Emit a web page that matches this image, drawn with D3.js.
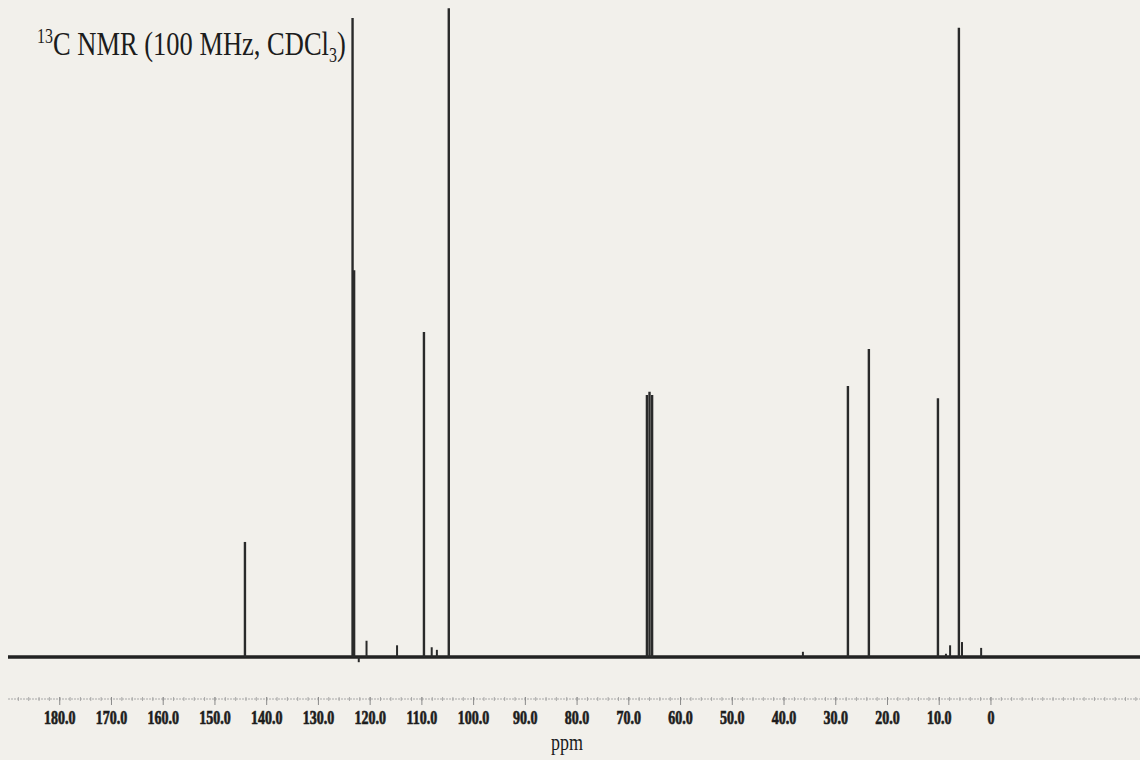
<!DOCTYPE html>
<html>
<head>
  <meta charset="utf-8">
  <title>13C NMR spectrum</title>
  <script src="https://d3js.org/d3.v7.min.js"></script>
  <style>
    html, body { margin: 0; padding: 0; background: #f2f0eb; }
    svg { display: block; }
    text { font-family: "Liberation Serif", "DejaVu Serif", serif; fill: #1c1c1c; }
    .tick-label { font-size: 14px; font-weight: bold; stroke: #1c1c1c; stroke-width: 0.5px; }
  </style>
</head>
<body>
<div id="chart"></div>
<script>
  // Peak positions (ppm, as read against the printed axis) and heights (0-100 scale).
  const peakPpm = [144.2, 123.4, 123.1, 122.2, 120.7, 114.8, 109.6, 108.1, 107.1, 104.8,
                   66.5, 66.0, 65.5, 36.35, 27.65, 23.6, 10.25, 8.7, 7.9, 6.2, 5.6, 1.9];
  const peakHeight = [17.7, 98.3, 59.5, -0.8, 2.5, 1.8, 50.0, 1.5, 1.1, 99.8,
                      40.3, 40.8, 40.3, 0.8, 41.7, 47.4, 39.8, 0.5, 1.8, 96.8, 2.3, 1.4];

  // Axis tick labels.
  const tickValues = [180, 170, 160, 150, 140, 130, 120, 110, 100, 90, 80, 70, 60, 50, 40, 30, 20, 10, 0];
  const tickText = ["180.0", "170.0", "160.0", "150.0", "140.0", "130.0", "120.0", "110.0", "100.0",
                    "90.0", "80.0", "70.0", "60.0", "50.0", "40.0", "30.0", "20.0", "10.0", "0"];
  const ppmDomain = [190, -29];

  const width = 1140, height = 760;

  const svg = d3.select("#chart").append("svg")
    .attr("width", width)
    .attr("height", height);

  svg.append("rect")
    .attr("width", width).attr("height", height)
    .attr("fill", "#f2f0eb");

  const x = d3.scaleLinear().domain(ppmDomain).range([8, 1141]);
  const y = d3.scaleLinear().domain([0, 100]).range([657, 7]);

  // Baseline of the spectrum.
  svg.append("line")
    .attr("x1", x(ppmDomain[0])).attr("x2", x(ppmDomain[1]))
    .attr("y1", y(0)).attr("y2", y(0))
    .attr("stroke", "#222")
    .attr("stroke-width", 3.5);

  // Peaks as sticks.
  const peaks = peakPpm.map((p, i) => ({ppm: p, h: peakHeight[i]}));
  svg.selectAll(".peak")
    .data(peaks)
    .enter().append("line")
    .attr("class", "peak")
    .attr("x1", d => x(d.ppm)).attr("x2", d => x(d.ppm))
    .attr("y1", y(0)).attr("y2", d => y(d.h))
    .attr("stroke", "#2a2a2a")
    .attr("stroke-width", d => Math.abs(d.h) > 5 ? 2.4 : 2);

  // Ruled ppm axis.
  const axisY = 699;
  svg.append("line")
    .attr("x1", 8).attr("x2", width)
    .attr("y1", axisY).attr("y2", axisY)
    .attr("stroke", "#a8a8a8")
    .attr("stroke-width", 1)
    .attr("stroke-dasharray", "2,1");

  const minor = d3.range(188, -29, -2);
  svg.selectAll(".minor")
    .data(minor)
    .enter().append("line")
    .attr("x1", d => x(d)).attr("x2", d => x(d))
    .attr("y1", axisY - 2).attr("y2", axisY + 2)
    .attr("stroke", "#9a9a9a")
    .attr("stroke-width", 0.8);

  svg.selectAll(".major")
    .data(tickValues)
    .enter().append("line")
    .attr("x1", d => x(d)).attr("x2", d => x(d))
    .attr("y1", axisY - 2).attr("y2", axisY + 6)
    .attr("stroke", "#8a8a8a")
    .attr("stroke-width", 1);

  svg.selectAll(".tick-label")
    .data(tickValues)
    .enter().append("text")
    .attr("class", "tick-label")
    .attr("text-anchor", "middle")
    .attr("transform", d => "translate(" + x(d) + ",724) scale(1,1.35)")
    .text((d, i) => tickText[i]);

  svg.append("text")
    .attr("text-anchor", "middle")
    .attr("transform", "translate(567,750) scale(1,1.25)")
    .style("font-size", "18px")
    .text("ppm");

  // Title with super/subscripts.
  const title = svg.append("text")
    .attr("transform", "translate(37,55) scale(1,1.3)")
    .style("font-size", "26.5px");
  title.append("tspan").attr("dy", -9).style("font-size", "16px").text("13");
  title.append("tspan").attr("dy", 9).text("C NMR (100 MHz, CDCl");
  title.append("tspan").attr("dy", 5).style("font-size", "16px").text("3");
  title.append("tspan").attr("dy", -5).text(")");
</script>
</body>
</html>
